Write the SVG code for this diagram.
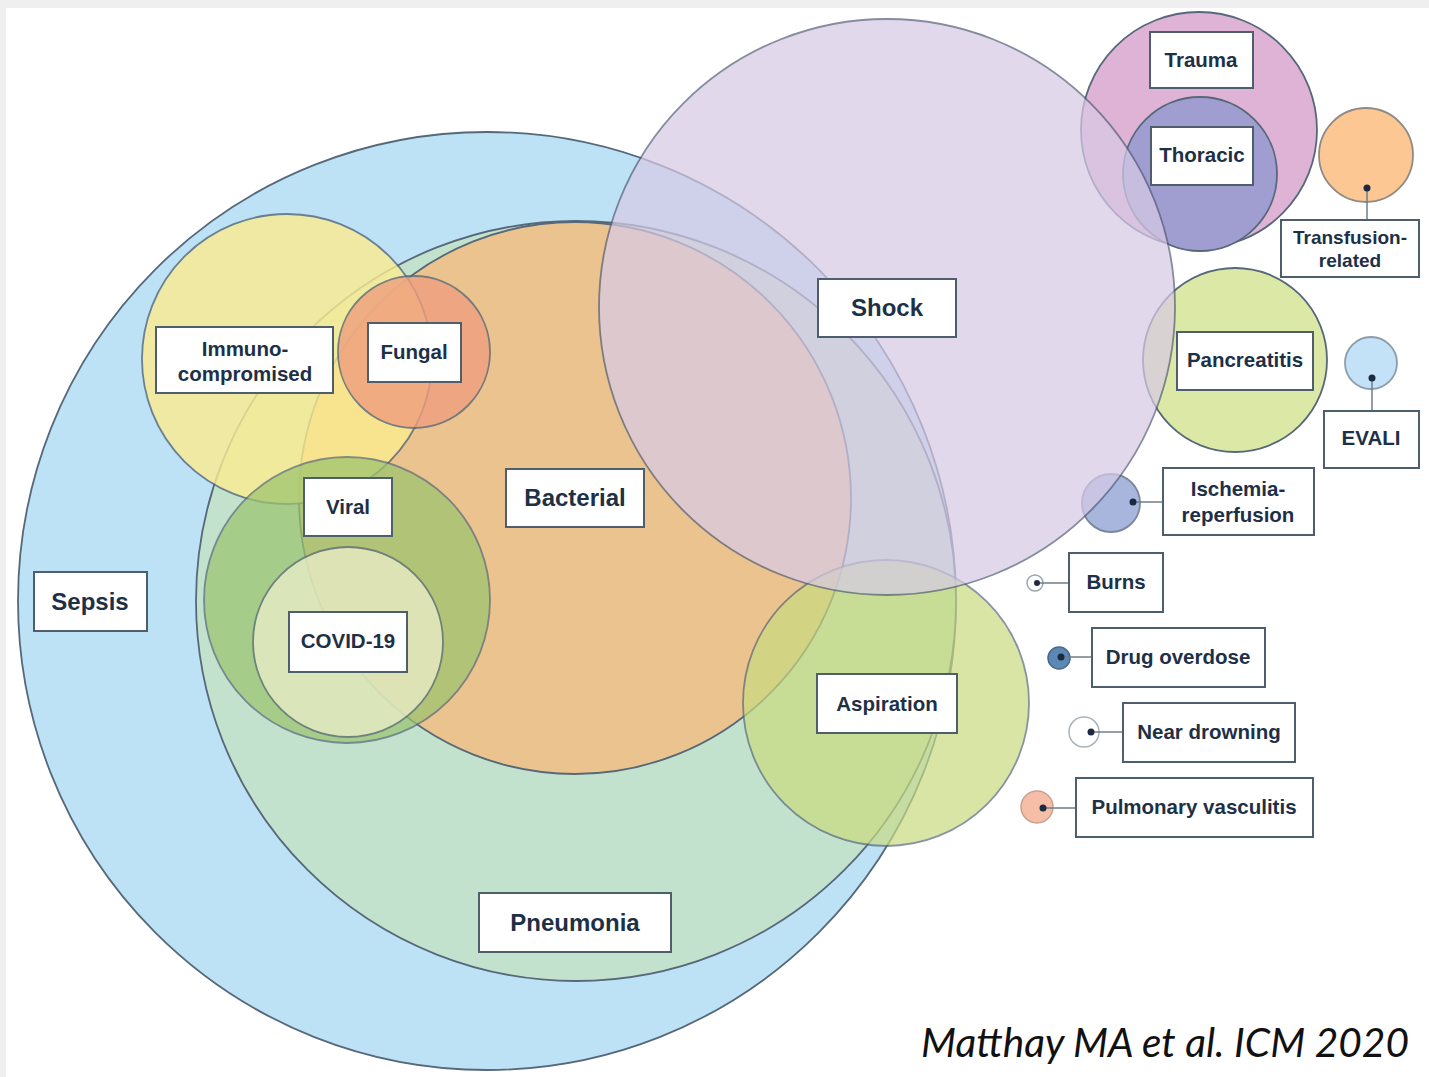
<svg xmlns="http://www.w3.org/2000/svg" width="1429" height="1077" viewBox="0 0 1429 1077">
<style>
.c{stroke:#56687a;stroke-width:1.8}
.t{opacity:0.78}
.box{fill:#ffffff;stroke:#4e5e6c;stroke-width:2}
.lb{font-family:"Liberation Sans",Arial,sans-serif;font-weight:bold;font-size:20.5px;fill:#1e3046;text-anchor:middle}
.big{font-size:24px}
.sm{font-size:19px}
.ln{stroke:#6f7c88;stroke-width:1.5;fill:none}
.dot{fill:#1b2a40}
</style>
<rect x="0" y="0" width="1429" height="1077" fill="#efefef"/>
<rect x="6" y="8" width="1423" height="1069" fill="#ffffff"/>

<g id="sepsis"><circle class="c" cx="487" cy="601" r="469" fill="#bde1f5"/></g>
<g id="pneumonia"><circle class="c" cx="576" cy="601" r="380" fill="#c3e2cd"/></g>
<g id="bacterial"><circle class="c" cx="575" cy="498" r="276" fill="#ebc38f"/></g>
<g id="immunocompromised"><circle class="c" cx="287" cy="359" r="145" fill="#fcec90" opacity="0.8"/></g>
<g id="fungal"><circle class="c" cx="414" cy="352" r="76" fill="#ef9e7e" opacity="0.8"/></g>
<g id="viral"><circle class="c" cx="347" cy="600" r="143" fill="#9cc46f" opacity="0.72"/></g>
<g id="covid19"><circle class="c" cx="348" cy="642" r="95" fill="#eff0cc" opacity="0.72"/></g>
<g id="aspiration"><circle class="c" cx="886" cy="703" r="143" fill="#c9db80" opacity="0.7"/></g>
<g id="trauma"><circle class="c" cx="1199" cy="130" r="118" fill="#dfb3d6"/></g>
<g id="thoracic"><circle class="c" cx="1200" cy="174" r="77" fill="#a09ed0"/></g>
<g id="transfusion"><circle cx="1366" cy="155" r="47" fill="#fcc792" stroke="#8f8a86" stroke-width="1.8"/></g>
<g id="pancreatitis"><circle class="c" cx="1235" cy="360" r="92" fill="#dce8a5"/></g>
<g id="evali"><circle cx="1371" cy="363" r="26" fill="#c3e2f7" stroke="#8c9cab" stroke-width="1.8"/></g>
<g id="ischemia"><circle cx="1111" cy="503" r="29" fill="#a8b6de" stroke="#7a879c" stroke-width="1.8"/></g>
<g id="burns"><circle cx="1035" cy="583" r="8" fill="#ffffff" stroke="#9aa6b2" stroke-width="1.5"/></g>
<g id="drug"><circle cx="1059" cy="658" r="11" fill="#5c88b5" stroke="#46698c" stroke-width="1.5"/></g>
<g id="drowning"><circle cx="1084" cy="732" r="15" fill="#ffffff" stroke="#aab4be" stroke-width="1.5"/></g>
<g id="vasculitis"><circle cx="1037" cy="807" r="16" fill="#f6bea6" stroke="#c9a090" stroke-width="1.5"/></g>
<g id="shock"><circle cx="887" cy="307" r="288" fill="#d7cae5" stroke="#56607a" stroke-width="1.8" opacity="0.72"/></g>

<g id="connectors">
<line class="ln" x1="1367" y1="188" x2="1367" y2="220"/>
<line class="ln" x1="1372" y1="378" x2="1372" y2="411"/>
<line class="ln" x1="1133" y1="502" x2="1163" y2="502"/>
<line class="ln" x1="1037" y1="583" x2="1069" y2="583"/>
<line class="ln" x1="1061" y1="657" x2="1092" y2="657"/>
<line class="ln" x1="1091" y1="732" x2="1123" y2="732"/>
<line class="ln" x1="1043" y1="808" x2="1076" y2="808"/>
<circle class="dot" cx="1367" cy="188" r="3.5"/>
<circle class="dot" cx="1372" cy="378" r="3.5"/>
<circle class="dot" cx="1133" cy="502" r="3.5"/>
<circle class="dot" cx="1037" cy="583" r="3"/>
<circle class="dot" cx="1061" cy="657" r="3.5"/>
<circle class="dot" cx="1091" cy="732" r="3.5"/>
<circle class="dot" cx="1043" cy="808" r="3.5"/>
</g>

<g id="labels">
<g id="lbl-sepsis"><rect class="box" x="34" y="572" width="113" height="59"/><text class="lb big" x="90" y="610">Sepsis</text></g>
<g id="lbl-pneumonia"><rect class="box" x="479" y="893" width="192" height="59"/><text class="lb big" x="575" y="931">Pneumonia</text></g>
<g id="lbl-bacterial"><rect class="box" x="506" y="469" width="138" height="58"/><text class="lb big" x="575" y="506">Bacterial</text></g>
<g id="lbl-shock"><rect class="box" x="818" y="279" width="138" height="58"/><text class="lb big" x="887" y="316">Shock</text></g>
<g id="lbl-immuno"><rect class="box" x="156" y="327" width="177" height="66"/><text class="lb" x="245" y="356">Immuno-</text><text class="lb" x="245" y="381">compromised</text></g>
<g id="lbl-fungal"><rect class="box" x="368" y="323" width="93" height="59"/><text class="lb" x="414" y="359">Fungal</text></g>
<g id="lbl-viral"><rect class="box" x="304" y="478" width="88" height="58"/><text class="lb" x="348" y="514">Viral</text></g>
<g id="lbl-covid"><rect class="box" x="289" y="612" width="118" height="60"/><text class="lb" x="348" y="648">COVID-19</text></g>
<g id="lbl-aspiration"><rect class="box" x="817" y="674" width="140" height="59"/><text class="lb" x="887" y="711">Aspiration</text></g>
<g id="lbl-trauma"><rect class="box" x="1150" y="32" width="103" height="56"/><text class="lb" x="1201" y="67">Trauma</text></g>
<g id="lbl-thoracic"><rect class="box" x="1151" y="127" width="102" height="58"/><text class="lb" x="1202" y="162">Thoracic</text></g>
<g id="lbl-transfusion"><rect class="box" x="1281" y="220" width="138" height="57"/><text class="lb sm" x="1350" y="244">Transfusion-</text><text class="lb sm" x="1350" y="267">related</text></g>
<g id="lbl-pancreatitis"><rect class="box" x="1177" y="332" width="136" height="58"/><text class="lb" x="1245" y="367">Pancreatitis</text></g>
<g id="lbl-evali"><rect class="box" x="1324" y="411" width="95" height="57"/><text class="lb" x="1371" y="445">EVALI</text></g>
<g id="lbl-ischemia"><rect class="box" x="1163" y="468" width="151" height="67"/><text class="lb" x="1238" y="496">Ischemia-</text><text class="lb" x="1238" y="522">reperfusion</text></g>
<g id="lbl-burns"><rect class="box" x="1069" y="553" width="94" height="59"/><text class="lb" x="1116" y="589">Burns</text></g>
<g id="lbl-drug"><rect class="box" x="1092" y="628" width="173" height="59"/><text class="lb" x="1178" y="664">Drug overdose</text></g>
<g id="lbl-drowning"><rect class="box" x="1123" y="703" width="172" height="59"/><text class="lb" x="1209" y="739">Near drowning</text></g>
<g id="lbl-vasculitis"><rect class="box" x="1076" y="778" width="237" height="59"/><text class="lb" x="1194" y="814">Pulmonary vasculitis</text></g>
</g>

<text x="921" y="1057" font-family="Lato,'Open Sans',sans-serif" font-style="italic" font-size="40" fill="#111111" textLength="488" lengthAdjust="spacingAndGlyphs">Matthay MA et al. ICM 2020</text>
</svg>
